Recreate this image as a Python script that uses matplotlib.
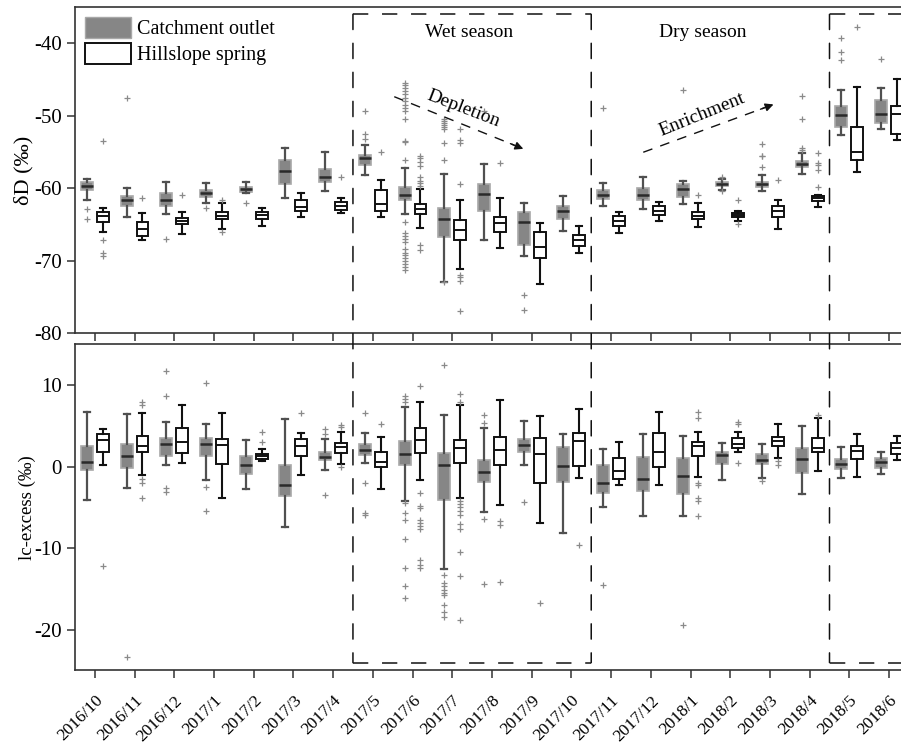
import numpy as np
import matplotlib.pyplot as plt
from matplotlib.patches import Patch, ConnectionPatch

plt.rcParams['font.family'] = ['Liberation Serif', 'DejaVu Serif']
plt.rcParams['axes.unicode_minus'] = False

months = ['2016/10', '2016/11', '2016/12', '2017/1', '2017/2', '2017/3', '2017/4',
          '2017/5', '2017/6', '2017/7', '2017/8', '2017/9', '2017/10', '2017/11',
          '2017/12', '2018/1', '2018/2', '2018/3', '2018/4', '2018/5', '2018/6']

# each row: upper whisker, Q3, median, Q1, lower whisker
dD_outlet = [
    [-58.7, -59.2, -59.7, -60.3, -61.6], [-60.0, -61.15, -61.7, -62.4, -64.0],
    [-59.2, -60.7, -61.6, -62.4, -63.6], [-59.25, -60.3, -60.7, -61.2, -62.1],
    [-59.2, -59.9, -60.1, -60.6, -60.7], [-54.4, -56.1, -57.6, -59.4, -61.4],
    [-55.0, -57.35, -58.5, -59.1, -60.4], [-54.1, -55.4, -55.8, -56.8, -58.2],
    [-57.2, -59.8, -60.9, -61.6, -63.6], [-58.05, -62.75, -64.2, -66.8, -72.9],
    [-56.7, -59.5, -60.8, -63.2, -67.2], [-62.0, -63.3, -64.7, -67.8, -69.4],
    [-61.1, -62.4, -63.1, -64.2, -65.9], [-59.25, -60.3, -60.9, -61.5, -62.4],
    [-58.5, -60.0, -61.0, -61.65, -62.95], [-59.0, -59.5, -60.1, -61.2, -62.2],
    [-58.8, -59.2, -59.4, -59.75, -60.2], [-58.2, -59.1, -59.4, -59.9, -60.45],
    [-55.2, -56.25, -56.65, -57.1, -58.05], [-46.5, -48.6, -49.9, -51.5, -52.7],
    [-46.2, -47.9, -49.8, -51.0, -51.9]]
dD_outlet_fl = [
    [-62.9, -64.2], [-47.6], [-67.0], [-62.7], [-62.0], [], [],
    [-49.4, -52.5, -53.2],
    [-45.5, -45.8, -46.2, -46.6, -47.0, -47.5, -48.0, -48.5, -49.0, -49.4, -50.5,
     -53.5, -53.7, -56.1, -64.7, -66.2, -66.6, -67.0, -67.5, -68.4, -68.9, -69.3,
     -69.7, -70.1, -70.5, -70.9, -71.3],
    [-50.4, -50.7, -51.0, -51.3, -51.6, -51.9, -53.8, -56.1, -73.0],
    [-49.4], [-74.7, -76.8], [], [-49.0], [], [-46.5], [-58.5, -60.45],
    [-53.85, -55.5, -55.6, -57.1], [-47.3, -50.5, -54.45, -54.7],
    [-39.3, -41.2, -42.3], [-42.2]]

dD_spring = [
    [-62.8, -63.3, -63.9, -64.65, -66.0], [-63.45, -64.7, -65.6, -66.6, -67.2],
    [-63.3, -64.1, -64.5, -65.0, -66.4], [-62.1, -63.3, -63.8, -64.2, -65.6],
    [-62.75, -63.3, -63.7, -64.3, -65.2], [-60.7, -61.7, -62.6, -63.1, -64.0],
    [-61.3, -61.9, -62.5, -63.0, -63.45], [-58.9, -60.3, -62.2, -63.2, -64.0],
    [-60.1, -62.2, -62.9, -63.6, -65.5], [-61.6, -64.4, -65.8, -67.2, -71.2],
    [-61.3, -64.05, -64.8, -66.1, -68.2], [-64.75, -66.0, -68.1, -69.6, -73.3],
    [-65.2, -66.5, -67.2, -68.0, -68.9], [-63.3, -63.9, -64.55, -65.25, -66.2],
    [-61.9, -62.5, -63.1, -63.7, -64.55], [-62.1, -63.3, -63.8, -64.3, -65.4],
    [-63.1, -63.45, -63.7, -64.0, -64.55], [-61.65, -62.5, -63.1, -64.0, -65.6],
    [-61.0, -61.05, -61.4, -61.75, -62.6], [-46.0, -51.5, -55.0, -56.15, -57.8],
    [-45.0, -48.7, -49.7, -52.5, -53.4]]
dD_spring_fl = [
    [-53.5, -67.1, -69.0, -69.4], [-61.3], [-60.9], [-61.7, -66.0], [], [], [-58.4],
    [-55.0],
    [-55.5, -55.8, -56.4, -57.0, -58.4, -59.0, -59.3, -59.7, -67.8, -68.5],
    [-51.8, -53.3, -53.75, -59.4, -72.0, -72.3, -72.8, -77.0],
    [-56.5], [], [], [], [], [-60.9], [-61.7, -65.0], [-58.9],
    [-55.15, -56.5, -56.85, -57.45, -59.85], [-37.7], []]

lc_outlet = [
    [6.72, 2.59, 0.63, -0.43, -4.1], [6.48, 2.76, 1.37, -0.1, -2.56],
    [5.53, 3.57, 2.83, 1.33, 0.22], [5.3, 3.57, 2.76, 1.33, -1.58],
    [3.29, 1.37, 0.26, -0.85, -2.7], [5.9, 0.18, -2.3, -3.6, -7.4],
    [3.37, 1.82, 1.2, 0.83, -0.39], [4.11, 2.76, 2.1, 1.41, 0.5],
    [7.3, 3.17, 1.6, 0.22, -4.16], [6.3, 1.66, 0.22, -4.1, -12.5],
    [4.76, 0.87, -0.67, -1.9, -5.55], [5.66, 3.45, 2.64, 1.78, 0.18],
    [3.99, 2.39, 0.1, -1.9, -8.1], [2.18, 0.22, -2.03, -3.25, -5.0],
    [3.99, 1.24, -1.5, -2.93, -6.0], [3.82, 1.04, -1.09, -3.3, -6.0],
    [2.96, 1.85, 1.45, 0.3, -1.62], [2.8, 1.53, 0.83, 0.3, -1.33],
    [5.04, 2.27, 0.99, -0.72, -3.37], [2.47, 0.92, 0.38, -0.31, -1.33],
    [1.78, 1.04, 0.63, -0.1, -0.92]]
lc_outlet_fl = [
    [], [-23.3], [11.8, 8.7, -2.56, -3.1], [10.3, -2.5, -5.4], [], [],
    [4.64, 3.99, -3.46], [6.56, -1.95, -5.7, -5.9],
    [8.72, 8.32, 7.9, -4.5, -5.7, -6.5, -8.9, -12.45, -14.6, -16.1],
    [12.5, -13.3, -14.3, -14.7, -15.1, -15.5, -15.7, -16.95, -17.8, -18.4],
    [6.36, 5.41, -6.4, -14.4], [-4.36], [], [-14.5], [], [-19.4], [], [-1.74],
    [], [], []]

lc_spring = [
    [4.6, 4.06, 3.25, 1.85, 0.22], [6.64, 3.82, 2.59, 1.78, -1.0],
    [7.6, 4.7, 3.0, 1.73, 0.43], [6.64, 3.37, 2.67, 0.38, -3.8],
    [2.15, 1.6, 1.33, 0.92, 0.67], [4.18, 3.45, 2.59, 1.37, -1.0],
    [4.3, 2.88, 2.39, 1.73, 0.34], [3.66, 1.85, 0.59, -0.06, -2.76],
    [7.95, 4.7, 3.25, 1.73, -1.6], [7.58, 3.33, 2.3, 0.43, -3.9],
    [8.24, 3.66, 2.06, 0.18, -4.65], [6.27, 3.53, 1.57, -1.99, -6.9],
    [7.13, 4.11, 3.13, 0.06, -1.33], [3.08, 1.12, -0.55, -1.5, -2.23],
    [6.76, 4.18, 1.85, -0.06, -2.23], [4.3, 3.04, 2.59, 1.29, -1.21],
    [4.3, 3.5, 2.83, 2.34, 1.85], [5.25, 3.7, 3.13, 2.59, 1.12],
    [5.95, 3.5, 2.27, 1.78, -0.52], [4.02, 2.59, 1.94, 0.96, -1.21],
    [3.78, 2.96, 2.27, 1.53, 0.83]]
lc_spring_fl = [
    [-12.2], [7.9, 7.6, -1.5, -2.0, -3.8], [], [], [4.23, 3.08], [6.56],
    [5.13, 4.92, 0.0], [5.25],
    [9.9, -3.2, -4.8, -5.1, -6.5, -6.9, -7.3, -7.7, -11.4, -12.05, -12.45],
    [8.9, 7.9, -4.2, -4.6, -5.0, -5.4, -5.9, -7.0, -7.7, -10.5, -13.4, -18.8],
    [-6.7, -7.1, -14.2], [-16.7], [-9.6], [], [],
    [6.7, 6.0, -1.95, -2.23, -3.87, -4.16, -6.04], [5.53, 5.2, 0.43], [0.7, 0.22],
    [6.36], [], []]


def stats(rows, fls):
    return [dict(whishi=r[0], q3=r[1], med=r[2], q1=r[3], whislo=r[4], fliers=f)
            for r, f in zip(rows, fls)]


GRAY = '#868686'
gray_kw = dict(boxprops=dict(facecolor=GRAY, edgecolor='#a8a8a8', linewidth=1.2),
               medianprops=dict(color='#2a2a2a', linewidth=1.8),
               whiskerprops=dict(color='#505050', linewidth=1.6),
               capprops=dict(color='#505050', linewidth=1.6),
               flierprops=dict(marker='+', markeredgecolor='#8a8a8a', markersize=5, markeredgewidth=0.9))
white_kw = dict(boxprops=dict(facecolor='white', edgecolor='#111111', linewidth=1.4),
                medianprops=dict(color='#111111', linewidth=1.4),
                whiskerprops=dict(color='#111111', linewidth=1.5),
                capprops=dict(color='#111111', linewidth=1.5),
                flierprops=dict(marker='+', markeredgecolor='#8a8a8a', markersize=5, markeredgewidth=0.9))

fig = plt.figure(figsize=(9.01, 7.45), dpi=100)
ax1 = fig.add_axes([0.0832, 0.553, 0.9256, 0.4376])
ax2 = fig.add_axes([0.0832, 0.1001, 0.9256, 0.4375])

x = np.arange(len(months))
for ax, out, out_fl, spr, spr_fl in [(ax1, dD_outlet, dD_outlet_fl, dD_spring, dD_spring_fl),
                                     (ax2, lc_outlet, lc_outlet_fl, lc_spring, lc_spring_fl)]:
    ax.bxp(stats(out, out_fl), positions=x - 0.2, widths=0.3, patch_artist=True,
           manage_ticks=False, **gray_kw)
    ax.bxp(stats(spr, spr_fl), positions=x + 0.2, widths=0.3, patch_artist=True,
           manage_ticks=False, **white_kw)
    ax.set_xlim(-0.5, 20.5)
    ax.set_xticks(x)
    ax.tick_params(direction='out', length=6, width=1.1, color='#333333', labelsize=15)
    for s in ax.spines.values():
        s.set_color('#333333')
        s.set_linewidth(1.2)

ax1.set_ylim(-80, -35)
ax1.set_yticks([-80, -70, -60, -50, -40])
ax1.set_xticklabels([])
ax2.set_ylim(-25, 15)
ax2.set_yticks([-20, -10, 0, 10])
ax2.set_xticklabels(months, rotation=45, ha='right', va='top', rotation_mode='anchor', fontsize=12.5)
ax2.tick_params(axis='x', pad=10)

ax1.set_ylabel('δD (‰)', fontsize=16)
ax2.set_ylabel('lc-excess (‰)', fontsize=13.5)
ax1.yaxis.set_label_coords(-0.05, 0.5)
ax2.yaxis.set_label_coords(-0.047, 0.5)

# dashed season frames spanning both panels
dash = (0, (10, 9))
for x0, x1 in [(6.5, 12.5), (18.5, 21.5)]:
    ax1.plot([x0, x1], [-36, -36], color='#111111', lw=1.1, ls=dash, clip_on=False)
    ax2.plot([x0, x1], [-24.05, -24.05], color='#111111', lw=1.1, ls=dash, clip_on=False)
    for xe in (x0, x1):
        cp = ConnectionPatch(xyA=(xe, -36), coordsA='data', axesA=ax1,
                             xyB=(xe, -24.05), coordsB='data', axesB=ax2,
                             color='#111111', lw=1.1, ls=dash)
        fig.add_artist(cp)

ax1.text(9.42, -38.5, 'Wet season', ha='center', va='center', fontsize=14)
ax1.text(15.3, -38.5, 'Dry season', ha='center', va='center', fontsize=14)
ax1.text(9.27, -49.1, 'Depletion', ha='center', va='center', fontsize=14, rotation=-21)
ax1.text(15.28, -49.9, 'Enrichment', ha='center', va='center', fontsize=14, rotation=22)

for (xs, ys), (xe, ye) in [((7.54, -47.38), (10.79, -54.58)), ((13.81, -55.05), (17.09, -48.45))]:
    ax1.plot([xs, xs + 0.93 * (xe - xs)], [ys, ys + 0.93 * (ye - ys)], color='#111111',
             lw=1.0, ls=(0, (7, 6)))
    ax1.annotate('', xy=(xe, ye), xytext=(xs + 0.9 * (xe - xs), ys + 0.9 * (ye - ys)),
                 arrowprops=dict(arrowstyle='-|>', color='#111111', lw=1.0, mutation_scale=12,
                                 shrinkA=0, shrinkB=0))

handles = [Patch(facecolor=GRAY, edgecolor='#a8a8a8'), Patch(facecolor='white', edgecolor='#111111', lw=1.4)]
ax1.legend(handles, ['Catchment outlet', 'Hillslope spring'], loc='upper left', frameon=False,
           fontsize=14.5, handlelength=2.3, handleheight=1.2, handletextpad=0.3,
           labelspacing=0.2, borderpad=0, borderaxespad=0.5)

fig.savefig('out.png', dpi=100)
